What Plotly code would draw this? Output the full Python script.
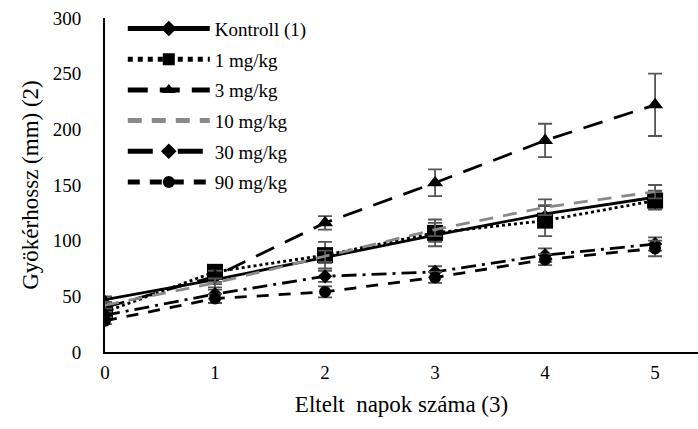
import plotly.graph_objects as go

# Days elapsed
days = [0, 1, 2, 3, 4, 5]

# Root length (mm) per treatment
kontroll = [47, 65, 85, 105, 124, 139]
mg1 = [36, 72, 87, 107, 118, 136]
mg3 = [40, 68, 116, 152, 190, 222]
mg10 = [42, 62, 86, 110, 130, 144]
mg30 = [33, 52, 68, 72, 87, 97]
mg90 = [28, 48, 54, 67, 83, 93]

# Standard errors
err_kontroll = [3, 4, 5, 6, 7, 6]
err_1 = [4, 5, 12, 12, 14, 8]
err_3 = [4, 5, 6, 12, 15, 28]
err_10 = [3, 4, 5, 6, 7, 6]
err_30 = [3, 4, 5, 5, 6, 6]
err_90 = [3, 4, 5, 5, 5, 7]

y_ticks = [0, 50, 100, 150, 200, 250, 300]

names = ["Kontroll (1)", "1 mg/kg", "3 mg/kg", "10 mg/kg", "30 mg/kg", "90 mg/kg"]
series = [kontroll, mg1, mg3, mg10, mg30, mg90]
errors = [err_kontroll, err_1, err_3, err_10, err_30, err_90]

styles = [
    dict(color="black", dash="solid", width=2.8, symbol="diamond", size=7),
    dict(color="black", dash="dot", width=2.8, symbol="square", size=16),
    dict(color="black", dash="20px,12px", width=2.8, symbol="triangle-up", size=14),
    dict(color="#8a8a8a", dash="14px,10px", width=2.8, symbol=None, size=0),
    dict(color="black", dash="longdashdot", width=2.8, symbol="diamond", size=11),
    dict(color="black", dash="12px,10px", width=2.8, symbol="circle", size=12),
]

fig = go.Figure()
for i, (name, ys, err, st) in enumerate(zip(names, series, errors, styles)):
    mode = "lines+markers" if st["symbol"] else "lines"
    fig.add_trace(go.Scatter(
        x=days, y=ys, name=name, mode=mode, legendgroup=f"g{i}",
        line=dict(color=st["color"], dash=st["dash"], width=st["width"]),
        marker=dict(symbol=st["symbol"] or "circle", size=st["size"], color=st["color"]),
        error_y=dict(type="data", array=err, visible=True, color="#555555",
                     thickness=1.8, width=7),
    ))

serif = "'Times New Roman', 'Liberation Serif', 'DejaVu Serif', serif"

fig.update_layout(
    width=698, height=429,
    margin=dict(l=105, r=0, t=18, b=77),
    paper_bgcolor="white", plot_bgcolor="white",
    font=dict(family=serif, size=19, color="black"),
    showlegend=True,
    legend=dict(
        x=0.03, y=1.025, xanchor="left", yanchor="top",
        bgcolor="rgba(0,0,0,0)", itemwidth=82,
        font=dict(family=serif, size=19, color="black"),
        tracegroupgap=3, itemsizing="constant",
    ),
    xaxis=dict(
        range=[0, 5.39], tickvals=days, ticktext=[str(d) for d in days],
        showgrid=False, zeroline=False, showline=True, linecolor="black",
        linewidth=2, ticks="", ticklabelstandoff=2,
        tickfont=dict(family=serif, size=19),
        title=dict(text="Eltelt  napok száma (3)", font=dict(family=serif, size=23), standoff=14),
    ),
    yaxis=dict(
        range=[0, 300], tickvals=y_ticks, ticktext=[str(v) for v in y_ticks],
        showgrid=False, zeroline=False, showline=True, linecolor="black",
        linewidth=2, ticks="", ticklabelstandoff=18,
        tickfont=dict(family=serif, size=19),
        title=dict(text="Gyökérhossz (mm) (2)", font=dict(family=serif, size=23), standoff=8),
    ),
)

fig.write_html("out.html")
